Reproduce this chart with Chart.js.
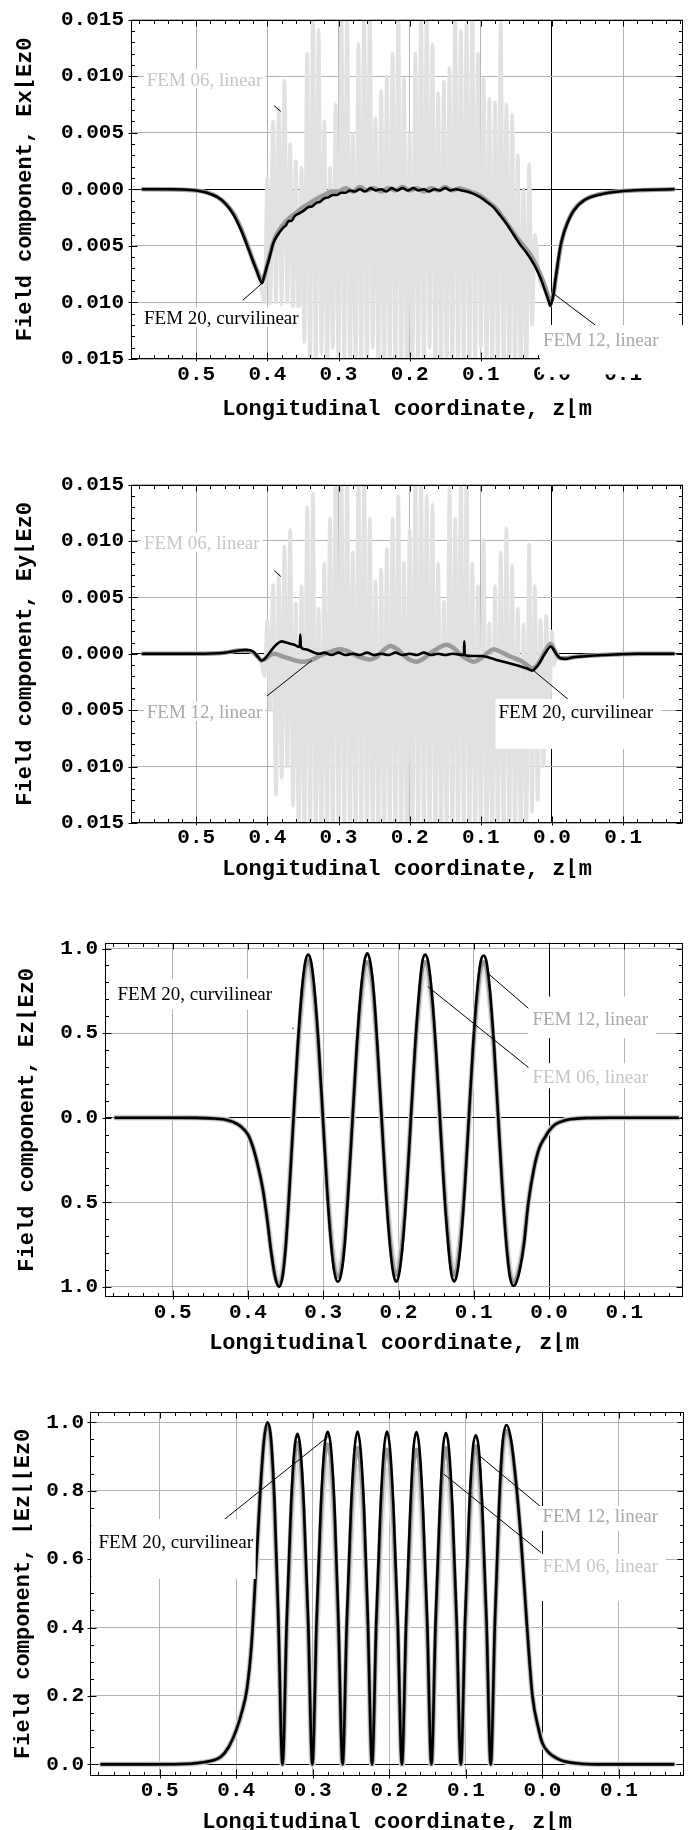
<!DOCTYPE html>
<html><head><meta charset="utf-8">
<script src="https://cdn.jsdelivr.net/npm/chart.js@4.4.1/dist/chart.umd.min.js"></script>
<style>
html,body{margin:0;padding:0;background:#fff;overflow:hidden;width:691px;height:1830px;}
canvas{position:absolute;left:0;}
</style></head><body>
<canvas id="c1" width="691" height="430" style="top:0px"></canvas>
<canvas id="c2" width="691" height="430" style="top:465px"></canvas>
<canvas id="c3" width="691" height="440" style="top:923px"></canvas>
<canvas id="c4" width="691" height="450" style="top:1393px"></canvas>
<script>
// ---------- tick labels (minus signs are missing in the original figure) ----------
const xTickValues = [-0.5,-0.4,-0.3,-0.2,-0.1,0,0.1];
const xTickLabels = ['0.5','0.4','0.3','0.2','0.1','0.0','0.1'];
const smallTickValues = [-0.015,-0.01,-0.005,0,0.005,0.01,0.015];
const smallTickLabels = ['0.015','0.010','0.005','0.000','0.005','0.010','0.015'];
const ezTickValues = [-1,-0.5,0,0.5,1];
const ezTickLabels = ['1.0','0.5','0.0','0.5','1.0'];
const absTickValues = [0,0.2,0.4,0.6,0.8,1.0];
const absTickLabels = ['0.0','0.2','0.4','0.6','0.8','1.0'];

const xTitle = 'Longitudinal coordinate, z\u230Am';
const yTitles = ['Field component, Ex\u230AEz0','Field component, Ey\u230AEz0','Field component, Ez\u230AEz0','Field component, \u230AEz\u230A\u230AEz0'];
const seriesNames = ['FEM 20, curvilinear','FEM 12, linear','FEM 06, linear'];

// ---------- Panel 1 : Ex/Ez0 ----------
const ex20 = [[-0.575,0],[-0.54,0],[-0.50,-0.0001],[-0.485,-0.0003],[-0.47,-0.0007],[-0.46,-0.0012],[-0.448,-0.0022],[-0.437,-0.0036],[-0.427,-0.0052],[-0.42,-0.0064],[-0.415,-0.0072],[-0.411,-0.0079],[-0.4075,-0.0083],[-0.4045,-0.0077],[-0.401,-0.0069],[-0.396,-0.0058],[-0.392,-0.0048],[-0.385,-0.0040],[-0.378,-0.0034],[-0.374,-0.0032],[-0.37,-0.0028],[-0.366,-0.0028],[-0.362,-0.0024],[-0.3545,-0.0021],[-0.349,-0.0019],[-0.343,-0.0016],[-0.337,-0.0015],[-0.331,-0.0012],[-0.326,-0.0011],[-0.32,-0.0008],[-0.314,-0.0007],[-0.308,-0.0005],[-0.302,-0.0005],[-0.296,-0.0003],[-0.29,-0.0003],[-0.284,-0.0001],[-0.277,-0.0002],[-0.27,0.0000],[-0.263,-0.0002],[-0.255,0.0001],[-0.248,-0.0001],[-0.24,0.0000],[-0.233,-0.0002],[-0.225,0.0001],[-0.218,-0.0001],[-0.21,0.0001],[-0.203,-0.0001],[-0.195,0.0001],[-0.188,-0.0001],[-0.18,0.0000],[-0.173,-0.0002],[-0.165,0.0000],[-0.158,-0.0001],[-0.15,0.0001],[-0.143,-0.0001],[-0.135,0.0000],[-0.127,-0.0001],[-0.1196,-0.0002],[-0.110,-0.0004],[-0.101,-0.0007],[-0.092,-0.0011],[-0.082,-0.0016],[-0.073,-0.0023],[-0.0633,-0.0031],[-0.054,-0.0040],[-0.0446,-0.0049],[-0.037,-0.0055],[-0.0305,-0.0061],[-0.023,-0.0069],[-0.0165,-0.0078],[-0.010,-0.0089],[-0.005,-0.0098],[-0.0024,-0.0103],[0.0015,-0.0095],[0.0046,-0.0081],[0.008,-0.0066],[0.0117,-0.0051],[0.016,-0.0040],[0.021,-0.0031],[0.0304,-0.0019],[0.0445,-0.0010],[0.068,-0.00045],[0.1,-0.00015],[0.13,-0.00005],[0.171,0]];
const ex12 = [[-0.575,0],[-0.50,-0.0001],[-0.47,-0.0007],[-0.448,-0.0021],[-0.437,-0.0035],[-0.427,-0.0051],[-0.42,-0.0063],[-0.413,-0.0074],[-0.4075,-0.0081],[-0.404,-0.0076],[-0.40,-0.0066],[-0.395,-0.0054],[-0.39,-0.0044],[-0.38,-0.0033],[-0.37,-0.0026],[-0.36,-0.0021],[-0.35,-0.0016],[-0.34,-0.0012],[-0.33,-0.0008],[-0.32,-0.0005],[-0.31,-0.0002],[-0.30,-0.0002],[-0.29,0.0001],[-0.28,-0.0002],[-0.27,0.0002],[-0.26,-0.0001],[-0.25,0.0001],[-0.24,-0.0002],[-0.23,0.0001],[-0.22,-0.0001],[-0.21,0.0002],[-0.20,-0.0001],[-0.19,0.0001],[-0.18,-0.0002],[-0.17,0.0001],[-0.16,-0.0001],[-0.15,0.0002],[-0.14,-0.0001],[-0.13,0.0001],[-0.12,-0.0001],[-0.11,-0.0003],[-0.10,-0.0006],[-0.09,-0.0011],[-0.08,-0.0016],[-0.07,-0.0024],[-0.06,-0.0033],[-0.05,-0.0042],[-0.04,-0.0050],[-0.03,-0.0058],[-0.02,-0.0070],[-0.012,-0.0082],[-0.006,-0.0093],[-0.002,-0.0099],[0.002,-0.0093],[0.005,-0.0080],[0.009,-0.0063],[0.013,-0.0048],[0.018,-0.0036],[0.025,-0.0025],[0.035,-0.0015],[0.05,-0.0008],[0.07,-0.0004],[0.1,-0.00015],[0.171,0]];
const ex06 = [[-0.575,0],[-0.50,-0.0001],[-0.47,-0.0007],[-0.455,-0.0015],[-0.44,-0.0030],[-0.428,-0.0052],[-0.418,-0.0070],[-0.41,-0.0083],
[-0.404,-0.0100],[-0.400,0.0010],[-0.396,-0.0101],[-0.392,0.0060],[-0.388,-0.0100],[-0.384,0.0072],[-0.380,-0.0102],[-0.376,0.0096],[-0.372,-0.0100],[-0.368,0.0040],[-0.364,-0.0110],[-0.360,0.0025],[-0.356,-0.0120],[-0.352,0.0019],[-0.348,-0.0135],[-0.344,0.0120],[-0.340,-0.016],[-0.336,0.016],[-0.332,-0.016],[-0.328,0.0141],[-0.324,-0.0145],[-0.320,0.0060],[-0.316,-0.016],[-0.312,0.0019],[-0.308,-0.0140],[-0.304,0.0075],[-0.300,-0.016],[-0.296,0.016],[-0.292,-0.016],[-0.288,0.016],[-0.284,-0.016],[-0.280,0.0049],[-0.276,-0.016],[-0.272,0.0128],[-0.268,-0.016],[-0.264,0.016],[-0.260,-0.016],[-0.256,0.016],[-0.252,-0.0140],[-0.248,0.0063],[-0.244,-0.016],[-0.240,0.0087],[-0.236,-0.016],[-0.232,0.0100],[-0.228,-0.016],[-0.224,0.0120],[-0.220,-0.016],[-0.216,0.016],[-0.212,-0.016],[-0.208,0.0098],[-0.204,-0.016],[-0.200,0.0049],[-0.196,-0.016],[-0.192,0.0120],[-0.188,-0.016],[-0.184,0.016],[-0.180,-0.016],[-0.176,0.016],[-0.172,-0.0140],[-0.168,0.0128],[-0.164,-0.016],[-0.160,0.0085],[-0.156,-0.016],[-0.152,0.0095],[-0.148,-0.016],[-0.144,0.0107],[-0.140,-0.016],[-0.136,0.016],[-0.132,-0.016],[-0.128,0.0140],[-0.124,-0.016],[-0.120,0.0147],[-0.116,-0.016],[-0.112,0.016],[-0.108,-0.016],[-0.104,0.0120],[-0.100,-0.0140],[-0.096,0.0098],[-0.092,-0.016],[-0.088,0.0080],[-0.084,-0.016],[-0.080,0.0077],[-0.076,-0.016],[-0.072,0.0148],[-0.068,-0.016],[-0.064,0.0075],[-0.060,-0.016],[-0.056,0.0066],[-0.052,-0.016],[-0.048,0.0030],[-0.044,-0.016],[-0.040,0.0000],[-0.036,-0.016],[-0.032,0.0022],[-0.028,-0.0120],[-0.024,-0.0040],
[-0.018,-0.0078],[-0.010,-0.0090],[-0.003,-0.0103],[0.003,-0.0090],[0.008,-0.0068],[0.013,-0.0048],[0.02,-0.0032],[0.03,-0.0019],[0.045,-0.0010],[0.068,-0.00045],[0.1,-0.00015],[0.171,0]];

// ---------- Panel 2 : Ey/Ez0 ----------
const ey20 = [[-0.575,0],[-0.50,0],[-0.46,0.0001],[-0.44,0.0003],[-0.43,0.00035],[-0.42,0.0002],[-0.413,-0.0003],[-0.408,-0.0006],[-0.403,-0.0004],[-0.398,0.0000],[-0.392,0.0005],[-0.386,0.0009],[-0.380,0.0011],[-0.374,0.0010],[-0.368,0.0009],[-0.362,0.0008],[-0.3545,0.0006],[-0.3537,0.0017],[-0.3529,0.0006],[-0.347,0.0004],[-0.341,0.0003],[-0.334,0.0001],[-0.327,0.0000],[-0.32,0.0001],[-0.31,-0.0001],[-0.30,0.0001],[-0.29,-0.0001],[-0.28,0.0000],[-0.27,-0.0001],[-0.26,0.0001],[-0.25,-0.0001],[-0.24,0.0000],[-0.23,-0.0001],[-0.22,0.0001],[-0.21,-0.0001],[-0.20,0.0000],[-0.19,-0.0001],[-0.18,0.0001],[-0.17,-0.0001],[-0.16,0.0000],[-0.15,-0.0001],[-0.14,0.0000],[-0.1238,-0.0001],[-0.1232,0.0011],[-0.1226,-0.0001],[-0.11,-0.0002],[-0.10,-0.0002],[-0.09,-0.0003],[-0.08,-0.0005],[-0.068,-0.0007],[-0.056,-0.0009],[-0.0446,-0.0011],[-0.035,-0.0013],[-0.028,-0.0015],[-0.022,-0.0012],[-0.0165,-0.0007],[-0.010,0.0000],[-0.0014,0.00065],[0.003,0.0003],[0.007,-0.0001],[0.012,-0.0004],[0.0187,-0.00045],[0.03,-0.0003],[0.04,-0.00025],[0.06,-0.00015],[0.077,-0.0001],[0.12,0],[0.171,0]];
const ey12 = [[-0.575,0],[-0.50,0],[-0.46,0.0001],[-0.44,0.0003],[-0.43,0.0003],[-0.42,0.0001],[-0.413,-0.0003],[-0.408,-0.0006],[-0.402,-0.0004],[-0.396,-0.0001],[-0.39,0.0000],[-0.38,-0.0002],[-0.37,-0.0004],[-0.36,-0.0006],[-0.35,-0.0007],[-0.34,-0.0006],[-0.33,-0.0003],[-0.32,0.0000],[-0.31,0.0002],[-0.30,0.0004],[-0.29,0.0003],[-0.28,0.0000],[-0.27,-0.0003],[-0.256,-0.0005],[-0.245,-0.0002],[-0.237,0.0003],[-0.227,0.0007],[-0.217,0.0004],[-0.207,-0.0002],[-0.198,-0.0006],[-0.19,-0.0007],[-0.18,-0.0004],[-0.17,0.0001],[-0.16,0.0005],[-0.148,0.0008],[-0.138,0.0005],[-0.128,-0.0001],[-0.118,-0.0005],[-0.11,-0.0007],[-0.1,-0.0004],[-0.09,0.0001],[-0.082,0.0004],[-0.073,0.0002],[-0.06,-0.0002],[-0.0446,-0.0006],[-0.035,-0.0010],[-0.028,-0.0013],[-0.022,-0.0011],[-0.0165,-0.0006],[-0.01,0.0002],[-0.002,0.0009],[0.003,0.0004],[0.007,-0.0001],[0.012,-0.0004],[0.019,-0.0004],[0.03,-0.0003],[0.045,-0.0002],[0.07,-0.0001],[0.12,0],[0.171,0]];
const ey06 = [[-0.575,0],[-0.46,0.0001],[-0.435,0.0003],[-0.42,0.0001],[-0.412,-0.0004],[-0.408,-0.0010],
[-0.404,-0.0020],[-0.400,0.0030],[-0.396,-0.0050],[-0.392,0.0061],[-0.388,-0.0125],[-0.384,0.0070],[-0.380,-0.0110],[-0.376,0.0095],[-0.372,-0.0100],[-0.368,0.0110],[-0.364,-0.0135],[-0.360,0.0045],[-0.356,-0.016],[-0.352,0.0060],[-0.348,-0.016],[-0.344,0.0130],[-0.340,-0.016],[-0.336,0.0142],[-0.332,-0.016],[-0.328,0.0040],[-0.324,-0.016],[-0.320,0.0080],[-0.316,-0.016],[-0.312,0.0120],[-0.308,-0.016],[-0.304,0.016],[-0.300,-0.016],[-0.296,0.016],[-0.292,-0.016],[-0.288,0.016],[-0.284,-0.016],[-0.280,0.0090],[-0.276,-0.016],[-0.272,0.016],[-0.268,-0.016],[-0.264,0.016],[-0.260,-0.016],[-0.256,0.0120],[-0.252,-0.016],[-0.248,0.0064],[-0.244,-0.016],[-0.240,0.0075],[-0.236,-0.016],[-0.232,0.0093],[-0.228,-0.016],[-0.224,0.0120],[-0.220,-0.016],[-0.216,0.0140],[-0.212,-0.016],[-0.208,0.0081],[-0.204,-0.016],[-0.200,0.0110],[-0.196,-0.016],[-0.192,0.016],[-0.188,-0.016],[-0.184,0.016],[-0.180,-0.016],[-0.176,0.0140],[-0.172,-0.016],[-0.168,0.0132],[-0.164,-0.016],[-0.160,0.0080],[-0.156,-0.016],[-0.152,0.0046],[-0.148,-0.016],[-0.144,0.0147],[-0.140,-0.016],[-0.136,0.0120],[-0.132,-0.016],[-0.128,0.016],[-0.124,-0.016],[-0.120,0.016],[-0.116,-0.016],[-0.112,0.0080],[-0.108,-0.016],[-0.104,0.0060],[-0.100,-0.016],[-0.096,0.0101],[-0.092,-0.016],[-0.088,0.0027],[-0.084,-0.016],[-0.080,0.0060],[-0.076,-0.016],[-0.072,0.0090],[-0.068,-0.016],[-0.064,0.0111],[-0.060,-0.016],[-0.056,0.0078],[-0.052,-0.016],[-0.048,0.0040],[-0.044,-0.016],[-0.040,0.0026],[-0.036,-0.016],[-0.032,0.0097],[-0.028,-0.0140],[-0.024,0.0060],[-0.020,-0.0130],[-0.016,0.0030],[-0.012,-0.0100],[-0.008,0.0034],[-0.004,-0.0060],[0.000,0.0020],[0.003,-0.0010],
[0.007,0.0000],[0.012,-0.0004],[0.02,-0.0004],[0.03,-0.0003],[0.05,-0.0002],[0.08,-0.0001],[0.171,0]];

// ---------- Panels 3 and 4 : shared longitudinal sample positions ----------
const ezX = [-0.576,-0.52,-0.47,-0.45,-0.43,-0.42,-0.41,-0.40,-0.393,-0.386,-0.38,-0.3745,-0.369,-0.364,-0.359,
-0.3545,-0.350,-0.345,-0.3395,
-0.334,-0.3285,-0.324,-0.320,-0.316,-0.3115,-0.306,-0.3005,
-0.295,-0.2895,-0.285,-0.2805,-0.276,-0.2715,-0.2665,-0.261,
-0.2555,-0.250,-0.2455,-0.2415,-0.2375,-0.233,-0.228,-0.2225,
-0.217,-0.2115,-0.207,-0.203,-0.199,-0.1945,-0.189,-0.1835,
-0.178,-0.1725,-0.1685,-0.1645,-0.1605,-0.156,-0.1505,-0.145,
-0.1395,-0.134,-0.130,-0.126,-0.122,-0.1175,-0.112,-0.1065,
-0.101,-0.0955,-0.091,-0.087,-0.083,-0.0785,-0.073,-0.0675,
-0.062,-0.0565,-0.052,-0.047,-0.041,-0.0334,-0.0277,-0.020,-0.013,-0.0046,0,0.008,0.0195,0.03,0.05,0.08,0.171];

// Panel 3 : Ez/Ez0
const ez20 = [0,0,-0.001,-0.004,-0.012,-0.025,-0.05,-0.10,-0.18,-0.30,-0.43,-0.60,-0.80,-0.94,-1.0,
-0.95,-0.77,-0.43,0,
0.42,0.75,0.92,0.965,0.92,0.75,0.42,0,
-0.42,-0.75,-0.92,-0.97,-0.92,-0.75,-0.42,0,
0.42,0.75,0.92,0.972,0.92,0.75,0.42,0,
-0.42,-0.75,-0.92,-0.97,-0.92,-0.75,-0.42,0,
0.42,0.75,0.92,0.965,0.92,0.75,0.42,0,
-0.42,-0.75,-0.92,-0.968,-0.92,-0.75,-0.42,0,
0.42,0.75,0.92,0.958,0.92,0.75,0.42,0,
-0.42,-0.76,-0.94,-0.995,-0.94,-0.75,-0.51,-0.30,-0.18,-0.11,-0.078,-0.040,-0.018,-0.008,-0.002,0,0];
const ez12 = [0,0,-0.001,-0.004,-0.012,-0.025,-0.05,-0.10,-0.18,-0.30,-0.43,-0.60,-0.80,-0.94,-0.99,
-0.94,-0.76,-0.42,0,
0.40,0.71,0.88,0.93,0.88,0.71,0.40,0,
-0.40,-0.72,-0.89,-0.94,-0.89,-0.72,-0.40,0,
0.40,0.71,0.88,0.92,0.88,0.71,0.40,0,
-0.40,-0.71,-0.88,-0.93,-0.88,-0.71,-0.40,0,
0.40,0.71,0.88,0.92,0.88,0.71,0.40,0,
-0.40,-0.71,-0.88,-0.93,-0.88,-0.71,-0.40,0,
0.40,0.71,0.88,0.92,0.88,0.71,0.40,0,
-0.41,-0.74,-0.92,-0.97,-0.92,-0.74,-0.51,-0.30,-0.18,-0.11,-0.078,-0.040,-0.018,-0.008,-0.002,0,0];
const ez06 = [0,0,-0.001,-0.004,-0.012,-0.025,-0.05,-0.10,-0.18,-0.30,-0.43,-0.59,-0.78,-0.92,-0.98,
-0.92,-0.74,-0.41,0,
0.38,0.68,0.84,0.89,0.84,0.68,0.38,0,
-0.38,-0.69,-0.85,-0.90,-0.85,-0.69,-0.38,0,
0.38,0.68,0.83,0.88,0.83,0.68,0.38,0,
-0.38,-0.68,-0.84,-0.89,-0.84,-0.68,-0.38,0,
0.38,0.68,0.83,0.88,0.83,0.68,0.38,0,
-0.38,-0.69,-0.85,-0.90,-0.85,-0.69,-0.38,0,
0.38,0.69,0.85,0.89,0.85,0.69,0.38,0,
-0.40,-0.72,-0.90,-0.96,-0.90,-0.73,-0.50,-0.30,-0.18,-0.11,-0.078,-0.040,-0.018,-0.008,-0.002,0,0];

// Panel 4 : |Ez|/Ez0
const ezAbs20 = [0,0,0.001,0.004,0.012,0.022,0.05,0.10,0.15,0.22,0.35,0.56,0.78,0.94,1.0,
0.95,0.77,0.43,0,
0.42,0.75,0.92,0.966,0.92,0.75,0.42,0,
0.42,0.75,0.92,0.972,0.92,0.75,0.42,0,
0.42,0.75,0.92,0.973,0.92,0.75,0.42,0,
0.42,0.75,0.92,0.973,0.92,0.75,0.42,0,
0.42,0.75,0.92,0.971,0.92,0.75,0.42,0,
0.42,0.75,0.92,0.968,0.92,0.75,0.42,0,
0.42,0.75,0.92,0.962,0.92,0.75,0.42,0,
0.42,0.76,0.94,0.992,0.95,0.80,0.65,0.40,0.20,0.10,0.062,0.035,0.017,0.008,0.002,0,0];
const ezAbs12 = [0,0,0.001,0.004,0.012,0.022,0.05,0.10,0.15,0.22,0.35,0.56,0.78,0.94,0.995,
0.94,0.75,0.42,0,
0.40,0.72,0.89,0.94,0.89,0.72,0.40,0,
0.40,0.71,0.88,0.935,0.88,0.71,0.40,0,
0.40,0.71,0.87,0.925,0.87,0.71,0.40,0,
0.40,0.70,0.87,0.92,0.87,0.70,0.40,0,
0.40,0.70,0.87,0.92,0.87,0.70,0.40,0,
0.40,0.71,0.87,0.925,0.87,0.71,0.40,0,
0.40,0.71,0.88,0.93,0.88,0.71,0.40,0,
0.41,0.74,0.92,0.975,0.94,0.80,0.65,0.40,0.20,0.10,0.062,0.035,0.017,0.008,0.002,0,0];
const ezAbs06 = [0,0,0.001,0.004,0.012,0.022,0.05,0.10,0.15,0.22,0.35,0.55,0.77,0.93,0.99,
0.92,0.73,0.41,0,
0.38,0.69,0.85,0.90,0.85,0.69,0.38,0,
0.38,0.68,0.83,0.88,0.83,0.68,0.38,0,
0.37,0.67,0.82,0.87,0.82,0.67,0.37,0,
0.37,0.66,0.81,0.86,0.81,0.66,0.37,0,
0.37,0.66,0.81,0.86,0.81,0.66,0.37,0,
0.37,0.67,0.82,0.87,0.82,0.67,0.37,0,
0.38,0.68,0.84,0.89,0.84,0.68,0.38,0,
0.40,0.72,0.90,0.96,0.92,0.79,0.64,0.40,0.20,0.10,0.062,0.035,0.017,0.008,0.002,0,0];

// ---------- styles ----------
const MONO = "'Liberation Mono', 'Courier New', monospace";
const tickFont = {family: MONO, size: 21, weight: 'bold'};
const titleFont = {family: MONO, size: 22, weight: 'bold'};
const labelFont = "19px 'Liberation Serif', 'Times New Roman', serif";
const gridColor = '#b3b3b3';
const C20 = '#000000', C12 = '#9a9a9a', C06 = '#e1e1e1';
const T20 = '#000000', T12 = '#a9a9a9', T06 = '#c6c6c6';

const pairs = arr => arr.map(p => ({x: p[0], y: p[1]}));
const zipXY = (xs, ys) => xs.map((x, i) => ({x: x, y: ys[i]}));

function framePlugin(o) {
  return {
    id: 'frame',
    afterDatasetsDraw(chart) {
      const {ctx, chartArea: a, scales: {x, y}} = chart;
      const L = Math.round(a.left) + 0.5, R = Math.round(a.right) - 0.5;
      const T = Math.round(a.top) + 0.5, B = Math.round(a.bottom) - 0.5;
      ctx.save();
      ctx.strokeStyle = '#000'; ctx.lineWidth = 1;
      ctx.strokeRect(L, T, R - L, B - T);
      ctx.beginPath();
      const isMaj = (vals, v) => vals.some(t => Math.abs(t - v) < 1e-9);
      for (let k = Math.ceil(o.xMin / o.xMinor - 1e-6); k * o.xMinor <= o.xMax + 1e-9; k++) {
        const v = k * o.xMinor;
        const maj = isMaj(xTickValues, v);
        const p = Math.round(x.getPixelForValue(v)) + 0.5;
        const len = maj ? 6 : 3.5;
        ctx.moveTo(p, B + (maj ? 3 : 0)); ctx.lineTo(p, B - len);
        ctx.moveTo(p, T); ctx.lineTo(p, T + len);
      }
      for (let k = Math.ceil(o.yMin / o.yMinor - 1e-6); k * o.yMinor <= o.yMax + 1e-9; k++) {
        const v = k * o.yMinor;
        const maj = isMaj(o.yTicks, v);
        const p = Math.round(y.getPixelForValue(v)) + 0.5;
        const len = maj ? 6 : 3.5;
        ctx.moveTo(L - (maj ? 3 : 0), p); ctx.lineTo(L + len, p);
        ctx.moveTo(R, p); ctx.lineTo(R - len, p);
      }
      ctx.stroke();
      ctx.restore();
    }
  };
}

function notesPlugin(o) {
  return {
    id: 'notes',
    afterDraw(chart) {
      const {ctx, scales: {x, y}} = chart;
      ctx.save();
      ctx.strokeStyle = '#000'; ctx.lineWidth = 1;
      for (const l of o.leaders) {
        ctx.beginPath();
        ctx.moveTo(x.getPixelForValue(l[0]), y.getPixelForValue(l[1]));
        ctx.lineTo(x.getPixelForValue(l[2]), y.getPixelForValue(l[3]));
        ctx.stroke();
      }
      ctx.font = labelFont;
      ctx.textAlign = 'left'; ctx.textBaseline = 'alphabetic';
      for (const n of o.notes) {
        const px = x.getPixelForValue(n.x), py = y.getPixelForValue(n.y);
        const w = ctx.measureText(n.text).width;
        const [t, r, b, l] = n.pad;
        ctx.fillStyle = '#fff';
        ctx.fillRect(px - l, py - t, w + l + r, t + b);
        ctx.fillStyle = n.color;
        ctx.fillText(n.text, px, py + 6.5);
      }
      ctx.restore();
    }
  };
}

function panel(id, o) {
  const el = document.getElementById(id);
  const H = el.height;
  return new Chart(el, {
    type: 'line',
    data: {
      datasets: o.series.map(s => ({
        data: s.data, borderColor: s.color, borderWidth: s.width, pointRadius: 0, fill: false,
        cubicInterpolationMode: 'monotone', borderJoinStyle: 'round', borderCapStyle: 'round', clip: 0
      }))
    },
    options: {
      responsive: false, animation: false, devicePixelRatio: 1, events: [],
      layout: {padding: {top: o.area.top, left: 0, right: 691 - o.area.right, bottom: 0}},
      scales: {
        x: {
          type: 'linear', position: 'bottom', min: o.xMin, max: o.xMax,
          afterBuildTicks: s => { s.ticks = xTickValues.map(v => ({value: v})); },
          afterFit: s => { s.height = H - o.area.bottom; },
          ticks: {autoSkip: false, maxRotation: 0, minRotation: 0, padding: o.xTickPad, color: '#000', font: tickFont,
                  callback: (v, i) => xTickLabels[i]},
          grid: {drawTicks: false, lineWidth: 1, color: c => (c.tick && Math.abs(c.tick.value) < 1e-12) ? '#000' : gridColor},
          border: {display: false},
          title: {display: true, text: xTitle, color: '#000', font: titleFont, padding: {top: 0, bottom: o.xTitlePad}}
        },
        y: {
          type: 'linear', position: 'left', min: o.yMin, max: o.yMax,
          afterBuildTicks: s => { s.ticks = o.yTicks.map(v => ({value: v})); },
          afterFit: s => { s.width = o.area.left; },
          ticks: {autoSkip: false, padding: o.yTickPad, color: '#000', font: tickFont,
                  callback: (v, i) => o.yLabels[i]},
          grid: {drawTicks: false, lineWidth: 1, color: c => (c.tick && Math.abs(c.tick.value) < 1e-12) ? '#000' : gridColor},
          border: {display: false},
          title: {display: true, text: o.yTitle, color: '#000', font: titleFont, padding: {top: o.yTitlePad, bottom: 0}}
        }
      },
      plugins: {legend: {display: false}, tooltip: {enabled: false}}
    },
    plugins: [framePlugin(o), notesPlugin(o)]
  });
}

// ---------- Panel 1 ----------
panel('c1', {
  area: {top: 17.3, bottom: 359, left: 131, right: 683},
  xMin: -0.5917, xMax: 0.1842, yMin: -0.015, yMax: 0.015,
  xMinor: 0.02, yMinor: 0.001,
  yTicks: smallTickValues, yLabels: smallTickLabels, yTitle: yTitles[0],
  xTickPad: 3, xTitlePad: 7, yTickPad: 7, yTitlePad: 12,
  series: [
    {data: pairs(ex20), color: C20, width: 2.6},
    {data: pairs(ex12), color: C12, width: 4.5},
    {data: pairs(ex06), color: C06, width: 3.6}
  ],
  leaders: [[-0.3906, 0.0074, -0.3811, 0.00687], [-0.4346, -0.00981, -0.4056, -0.0082], [0.00225, -0.00922, 0.0609, -0.0120]],
  notes: [
    {text: seriesNames[2], color: T06, x: -0.5696, y: 0.00973, pad: [10, 3, 9, 3]},
    {text: seriesNames[0], color: T20, x: -0.5734, y: -0.01134, pad: [10, 3, 9, 3]},
    {text: seriesNames[1], color: T12, x: -0.0127, y: -0.01332, pad: [15, 30, 34.5, 3]}
  ]
});

// ---------- Panel 2 ----------
panel('c2', {
  area: {top: 17.7, bottom: 358, left: 131, right: 683},
  xMin: -0.5917, xMax: 0.1842, yMin: -0.015, yMax: 0.015,
  xMinor: 0.02, yMinor: 0.001,
  yTicks: smallTickValues, yLabels: smallTickLabels, yTitle: yTitles[1],
  xTickPad: 2, xTitlePad: 12, yTickPad: 7, yTitlePad: 12,
  series: [
    {data: pairs(ey20), color: C20, width: 2.6},
    {data: pairs(ey12), color: C12, width: 4.5},
    {data: pairs(ey06), color: C06, width: 3.6}
  ],
  leaders: [[-0.3902, 0.00737, -0.3811, 0.00685], [-0.4008, -0.00375, -0.3376, -0.00059], [-0.0259, -0.00149, 0.0257, -0.00419]],
  notes: [
    {text: seriesNames[2], color: T06, x: -0.5734, y: 0.00986, pad: [10, 3, 9, 3]},
    {text: seriesNames[1], color: T12, x: -0.5696, y: -0.00515, pad: [10, 3, 9, 3]},
    {text: seriesNames[0], color: T20, x: -0.0751, y: -0.00515, pad: [13, 8, 37, 3]}
  ]
});

// ---------- Panel 3 ----------
panel('c3', {
  area: {top: 17, bottom: 374, left: 105, right: 683},
  xMin: -0.590, xMax: 0.178, yMin: -1.06, yMax: 1.035,
  xMinor: 0.02, yMinor: 0.1,
  yTicks: ezTickValues, yLabels: ezTickLabels, yTitle: yTitles[2],
  xTickPad: 3, xTitlePad: 6, yTickPad: 7, yTitlePad: 14,
  series: [
    {data: zipXY(ezX, ez20), color: C20, width: 2.6},
    {data: zipXY(ezX, ez12), color: C12, width: 4},
    {data: zipXY(ezX, ez06), color: C06, width: 6}
  ],
  leaders: [[-0.0812, 0.853, -0.024, 0.6335], [-0.1611, 0.775, -0.024, 0.285], [-0.3405, 0.532, -0.3398, 0.524]],
  notes: [
    {text: seriesNames[0], color: T20, x: -0.5734, y: 0.7365, pad: [14.5, 3, 16.5, 3]},
    {text: seriesNames[1], color: T12, x: -0.0221, y: 0.589, pad: [21.5, 8, 20, 4]},
    {text: seriesNames[2], color: T06, x: -0.0221, y: 0.245, pad: [13, 8, 12, 4]}
  ]
});

// ---------- Panel 4 ----------
panel('c4', {
  area: {top: 17, bottom: 383, left: 90, right: 684},
  xMin: -0.591, xMax: 0.185, yMin: -0.034, yMax: 1.031,
  xMinor: 0.02, yMinor: 0.05,
  yTicks: absTickValues, yLabels: absTickLabels, yTitle: yTitles[3],
  xTickPad: 2, xTitlePad: 7, yTickPad: 6, yTitlePad: 10,
  series: [
    {data: zipXY(ezX, ezAbs20), color: C20, width: 2.6},
    {data: zipXY(ezX, ezAbs12), color: C12, width: 4},
    {data: zipXY(ezX, ezAbs06), color: C06, width: 6}
  ],
  leaders: [[-0.421, 0.706, -0.2784, 0.961], [-0.0844, 0.906, -0.0017, 0.752], [-0.1286, 0.848, -0.0017, 0.619]],
  notes: [
    {text: seriesNames[0], color: T20, x: -0.580, y: 0.650, pad: [23, 2.6, 37, 7]},
    {text: seriesNames[1], color: T12, x: 0.0, y: 0.726, pad: [10, 8, 15, 4]},
    {text: seriesNames[2], color: T06, x: 0.0, y: 0.580, pad: [12, 8, 35, 4]}
  ]
});
</script>
</body></html>
